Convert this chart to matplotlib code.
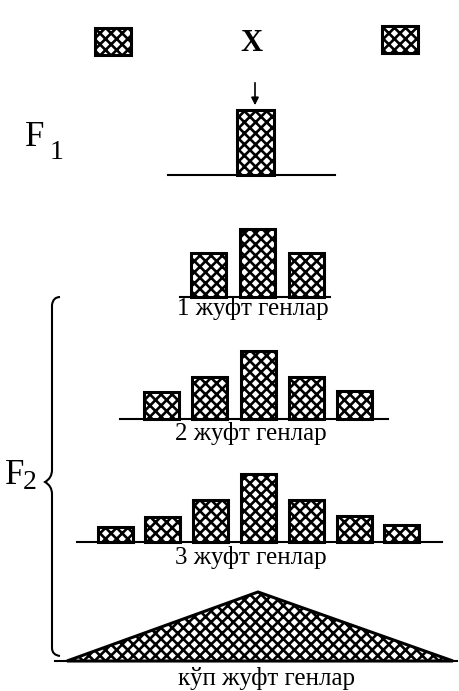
import matplotlib.pyplot as plt
from matplotlib.path import Path
from matplotlib.patches import PathPatch
import numpy as np

plt.rcParams['hatch.linewidth'] = 1.9

# bar heights (same units in every panel)
parent_heights = [27, 27]
f1_heights = [65]
pair1_heights = [44, 68, 44]
pair2_heights = [27, 42, 68, 42, 28]
pair3_heights = [15, 25, 42, 68, 42, 26, 17]
many_peak = 69
panel_labels = ["1 жуфт генлар", "2 жуфт генлар", "3 жуфт генлар", "кўп жуфт генлар"]

W, H = 459, 691
serif = ['Liberation Serif', 'DejaVu Serif']

fig = plt.figure(figsize=(W / 100, H / 100), dpi=100)
ax = fig.add_axes([0, 0, 1, 1])
ax.set_xlim(0, W)
ax.set_ylim(0, H)
ax.axis('off')

def Y(py):
	return H - py

bar_style = dict(color='white', edgecolor='black', linewidth=2.2, hatch='xxx')

def bar_panel(heights, base, center, step, width, line_from, line_to):
	n = len(heights)
	xs = center + step * (np.arange(n) - (n - 1) / 2)
	ax.plot([line_from, line_to], [Y(base), Y(base)], color='black', lw=1.5, zorder=1)
	ax.bar(xs, heights, width=width, bottom=Y(base), zorder=2, **bar_style)

# parents
ax.bar([113, 400], parent_heights, width=36, bottom=[Y(55), Y(53)], zorder=2, **bar_style)
ax.text(251, Y(43), "X", fontsize=22, fontweight='bold', family=serif, ha='center', va='center')

# F1
ax.annotate("", xy=(255, Y(108)), xytext=(255, Y(80)),
			arrowprops=dict(arrowstyle='-|>', color='black', lw=1.2, mutation_scale=11))
bar_panel(f1_heights, 175, 255.5, 0, 37, 168, 335)
ax.text(25, Y(146), "F", fontsize=25, family=serif, ha='left', va='baseline')
ax.text(50, Y(159), "1", fontsize=20, family=serif, ha='left', va='baseline')

# F2 panels
bar_panel(pair1_heights, 297, 257, 49, 35, 180, 330)
bar_panel(pair2_heights, 419, 258, 48.4, 35, 120, 388)
bar_panel(pair3_heights, 542, 258.5, 47.8, 35, 77, 442)

# many gene pairs: triangle
base4 = 661
ax.plot([55, 457], [Y(base4), Y(base4)], color='black', lw=1.5, zorder=1)
ax.fill([67, 258, 453], [Y(base4), Y(base4) + many_peak, Y(base4)], zorder=2, **bar_style)

label_pos = [(253, 315), (251, 440), (251, 564), (266, 685)]
for txt, (x, y) in zip(panel_labels, label_pos):
	ax.text(x, Y(y), txt, fontsize=18, family=serif, ha='center', va='baseline')

# brace for F2
verts = [(60, 297), (53, 297), (52, 305), (52, 470), (52, 478), (45, 482), (52, 486),
		 (52, 494), (52, 648), (52, 655), (60, 656)]
codes = [Path.MOVETO, Path.CURVE3, Path.CURVE3, Path.LINETO, Path.CURVE3, Path.CURVE3,
		 Path.CURVE3, Path.CURVE3, Path.LINETO, Path.CURVE3, Path.CURVE3]
ax.add_patch(PathPatch(Path([(x, Y(y)) for x, y in verts], codes), fill=False, lw=1.5, color='black'))
ax.text(5, Y(484), "F", fontsize=25, family=serif, ha='left', va='baseline')
ax.text(23, Y(489), "2", fontsize=20, family=serif, ha='left', va='baseline')

fig.savefig("out.png", dpi=100)
